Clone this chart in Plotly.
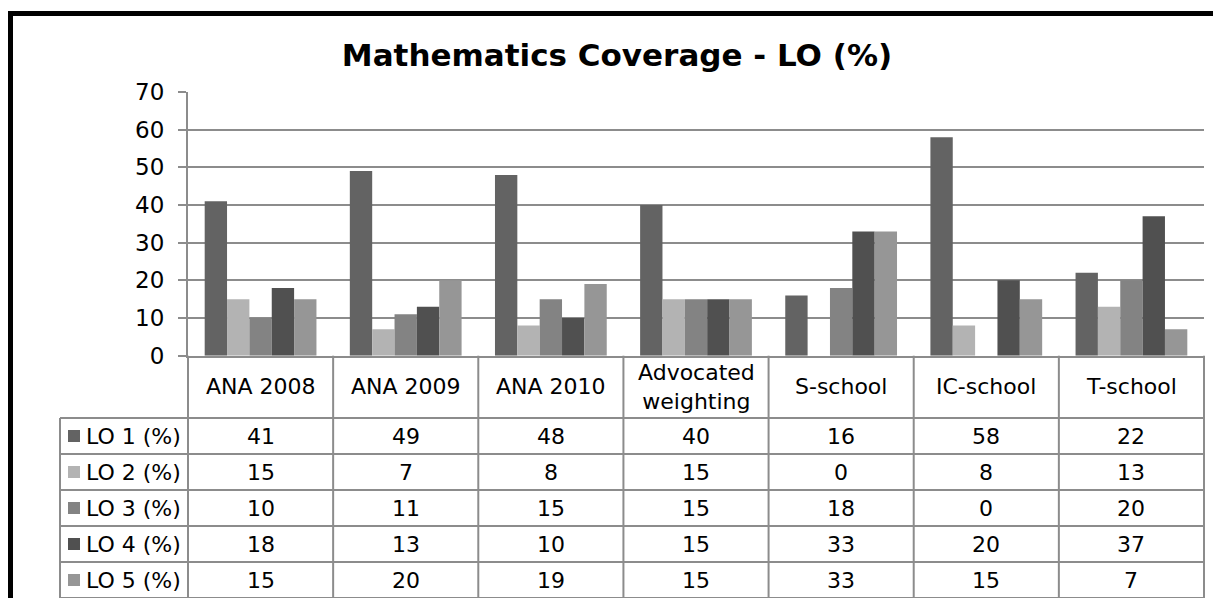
import plotly.graph_objects as go

# ---- data -------------------------------------------------------------
categories = ["ANA 2008", "ANA 2009", "ANA 2010", "Advocated<br>weighting",
              "S-school", "IC-school", "T-school"]
series_names = ["LO 1 (%)", "LO 2 (%)", "LO 3 (%)", "LO 4 (%)", "LO 5 (%)"]
lo1 = [41, 49, 48, 40, 16, 58, 22]
lo2 = [15, 7, 8, 15, 0, 8, 13]
lo3 = [10, 11, 15, 15, 18, 0, 20]
lo4 = [18, 13, 10, 15, 33, 20, 37]
lo5 = [15, 20, 19, 15, 33, 15, 7]
y_ticks = [0, 10, 20, 30, 40, 50, 60, 70]

series_values = [lo1, lo2, lo3, lo4, lo5]
colors = ["#636363", "#b3b3b3", "#838383", "#505050", "#969696"]

# ---- layout geometry (pixels) -------------------------------------------
W, H = 1213, 598
PLOT_L, PLOT_R = 188, 1204          # plot area left / right
PLOT_T, PLOT_B = 92, 355.7          # plot area top (70) / bottom (0)
LEG_L = 60                          # left edge of the series-name column
ROW_H = 36                          # data-table row height
HEAD_B = PLOT_B + 62.3              # bottom of the category header row
GRID = "#8c8c8c"
FONT = "DejaVu Sans"
TABLE_SIZE = 22


def px(xp):
    return xp / W


def py(yp):
    return 1 - yp / H


fig = go.Figure()
for name, vals, col in zip(series_names, series_values, colors):
    fig.add_trace(go.Bar(
        x=list(range(len(categories))), y=vals, name=name,
        marker=dict(color=col, line=dict(width=0)),
        showlegend=False, hoverinfo="x+y+name",
    ))

shapes = []
annotations = []

# outer chart border
shapes.append(dict(type="rect", xref="paper", yref="paper",
                   x0=px(10.5), x1=px(W + 20), y0=py(13.5), y1=py(H + 20),
                   line=dict(color="black", width=5), fillcolor="rgba(0,0,0,0)"))

n = len(categories)
col_w = (PLOT_R - PLOT_L) / n
line = dict(color=GRID, width=2)

# vertical lines of the data table (category boundaries)
for i in range(n + 1):
    xx = px(PLOT_L + i * col_w)
    shapes.append(dict(type="line", xref="paper", yref="paper",
                       x0=xx, x1=xx, y0=py(PLOT_B), y1=py(H), line=line))
# series-name column left border
shapes.append(dict(type="line", xref="paper", yref="paper",
                   x0=px(LEG_L), x1=px(LEG_L), y0=py(HEAD_B), y1=py(H), line=line))
# horizontal row lines
for k in range(len(series_names) + 1):
    yy = py(HEAD_B + k * ROW_H)
    shapes.append(dict(type="line", xref="paper", yref="paper",
                       x0=px(LEG_L), x1=px(PLOT_R), y0=yy, y1=yy, line=line))

# category header texts
for i, cat in enumerate(categories):
    annotations.append(dict(
        x=i, xref="x", y=py((PLOT_B + HEAD_B) / 2), yref="paper",
        text=cat, showarrow=False, xanchor="center", yanchor="middle",
        font=dict(family=FONT, size=TABLE_SIZE, color="black"),
    ))

# series rows: swatch, name and values
for k, (name, vals, col) in enumerate(zip(series_names, series_values, colors)):
    yc = HEAD_B + k * ROW_H + ROW_H / 2
    shapes.append(dict(type="rect", xref="paper", yref="paper",
                       x0=px(68), x1=px(80), y0=py(yc - 6), y1=py(yc + 6),
                       line=dict(width=0), fillcolor=col))
    annotations.append(dict(
        x=px(84), xref="paper", y=py(yc), yref="paper", text=name,
        showarrow=False, xanchor="left", yanchor="middle",
        font=dict(family=FONT, size=TABLE_SIZE, color="black"),
    ))
    for i, v in enumerate(vals):
        annotations.append(dict(
            x=i, xref="x", y=py(yc), yref="paper", text=str(v),
            showarrow=False, xanchor="center", yanchor="middle",
            font=dict(family=FONT, size=TABLE_SIZE, color="black"),
        ))

fig.update_layout(
    width=W, height=H,
    margin=dict(l=0, r=0, t=0, b=0, pad=0, autoexpand=False),
    paper_bgcolor="white", plot_bgcolor="white",
    barmode="group", bargap=0.23, bargroupgap=0,
    title=dict(text="<b>Mathematics Coverage - LO (%)</b>",
               x=px(617), xanchor="center", y=py(55), yanchor="middle",
               font=dict(family=FONT, size=31, color="black"),
               automargin=False),
    xaxis=dict(domain=[px(PLOT_L), px(PLOT_R)], range=[-0.5, n - 0.5],
               showticklabels=False, ticks="", showgrid=False,
               showline=True, linecolor=GRID, linewidth=2, zeroline=False,
               automargin=False),
    yaxis=dict(domain=[py(PLOT_B), py(PLOT_T)], range=[0, 70],
               tickvals=y_ticks, ticks="outside", ticklen=8, tickwidth=2,
               tickcolor=GRID, showgrid=True, gridcolor=GRID, gridwidth=2,
               showline=True, linecolor=GRID, linewidth=2, zeroline=False,
               ticklabelstandoff=9, automargin=False,
               tickfont=dict(family=FONT, size=23, color="black")),
    shapes=shapes, annotations=annotations,
    font=dict(family=FONT, color="black"),
)

fig.write_html("out.html")
